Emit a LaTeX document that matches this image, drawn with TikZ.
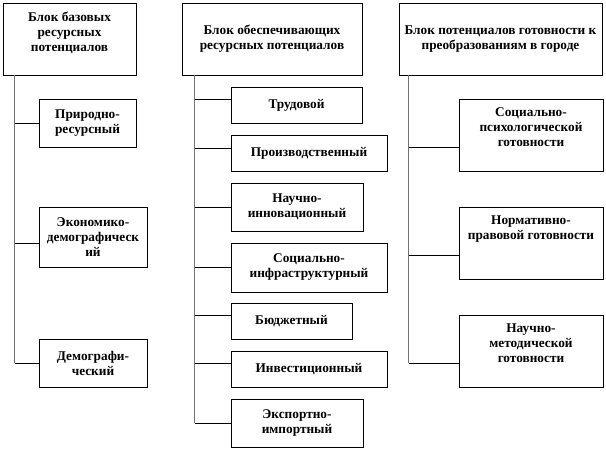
\documentclass[tikz,border=0pt]{standalone}
\usepackage{fontspec}
\setmainfont{Liberation Serif}
\usetikzlibrary{positioning, calc}

\begin{document}
\begin{tikzpicture}[
    x=1pt, y=-1pt,
    block/.style={rectangle, draw, line width=0.8pt, align=center, inner sep=1pt,
        font=\fontsize{13.3}{15}\selectfont\bfseries},
    trunk/.style={line width=1pt, black!55},
    branch/.style={line width=1pt},
]
\useasboundingbox (0,0) rectangle (606,450);

% header blocks
\node[block, minimum width=133pt, minimum height=72pt] (base) at (69.5,39) {Блок базовых\\ресурсных\\потенциалов\\~};
\node[block, minimum width=180pt, minimum height=72pt] (supp) at (272,39) {Блок обеспечивающих\\ресурсных потенциалов};
\node[block, minimum width=203pt, minimum height=72pt] (ready) at (500.5,39) {Блок потенциалов готовности к\\преобразованиям в городе};

% base potentials
\node[block, minimum width=97pt, minimum height=48pt] (prir) at (87.5,123) {Природно-\\ресурсный};
\node[block, minimum width=108pt, minimum height=60pt] (ekon) at (93,237) {Экономико-\\демографическ\\ий};
\node[block, minimum width=108pt, minimum height=48pt] (demo) at (93,363) {Демографи-\\ческий};

% supporting potentials
\node[block, minimum width=131pt, minimum height=36pt] (trud) at (296.5,105) {Трудовой};
\node[block, minimum width=156pt, minimum height=36pt] (prod) at (309,153) {Производственный};
\node[block, minimum width=132pt, minimum height=48pt] (innov) at (297,207) {Научно-\\инновационный};
\node[block, minimum width=156pt, minimum height=49pt] (infra) at (309,267.5) {Социально-\\инфраструктурный};
\node[block, minimum width=121pt, minimum height=36pt] (budg) at (291.5,321) {Бюджетный};
\node[block, minimum width=156pt, minimum height=36pt] (invest) at (309,369) {Инвестиционный};
\node[block, minimum width=132pt, minimum height=48pt] (export) at (297,423) {Экспортно-\\импортный};

% readiness potentials
\node[block, minimum width=144pt, minimum height=72pt] (psy) at (531,135) {Социально-\\психологической\\готовности\\~};
\node[block, minimum width=144pt, minimum height=72pt] (norm) at (531,243) {Нормативно-\\правовой готовности\\~\\~};
\node[block, minimum width=144pt, minimum height=72pt] (meth) at (531,351) {Научно-\\методической\\готовности\\~};

% trunks
\coordinate (lt) at ([xshift=12pt]base.south west);
\coordinate (mt) at ([xshift=13pt]supp.south west);
\coordinate (rt) at ([xshift=10pt]ready.south west);
\coordinate (rend) at ([yshift=-12pt]meth.west);
\draw[trunk] (lt) -- (lt |- demo.west);
\draw[trunk] (mt) -- (mt |- export.west);
\draw[trunk] (rt) -- (rt |- rend);

% branches
\foreach \n/\d in {prir/0, ekon/6, demo/0} {
    \coordinate (c) at ($(\n.west)+(0,\d)$);
    \draw[branch] (c -| lt) -- (c);
}
\foreach \n/\d in {trud/-6, prod/-5, innov/0, infra/0, budg/-6, invest/-6, export/0} {
    \coordinate (c) at ($(\n.west)+(0,\d)$);
    \draw[branch] (c -| mt) -- (c);
}
\foreach \n in {psy, norm, meth} {
    \coordinate (c) at ($(\n.west)+(0,12)$);
    \draw[branch] (c -| rt) -- (c);
}

\end{tikzpicture}
\end{document}
